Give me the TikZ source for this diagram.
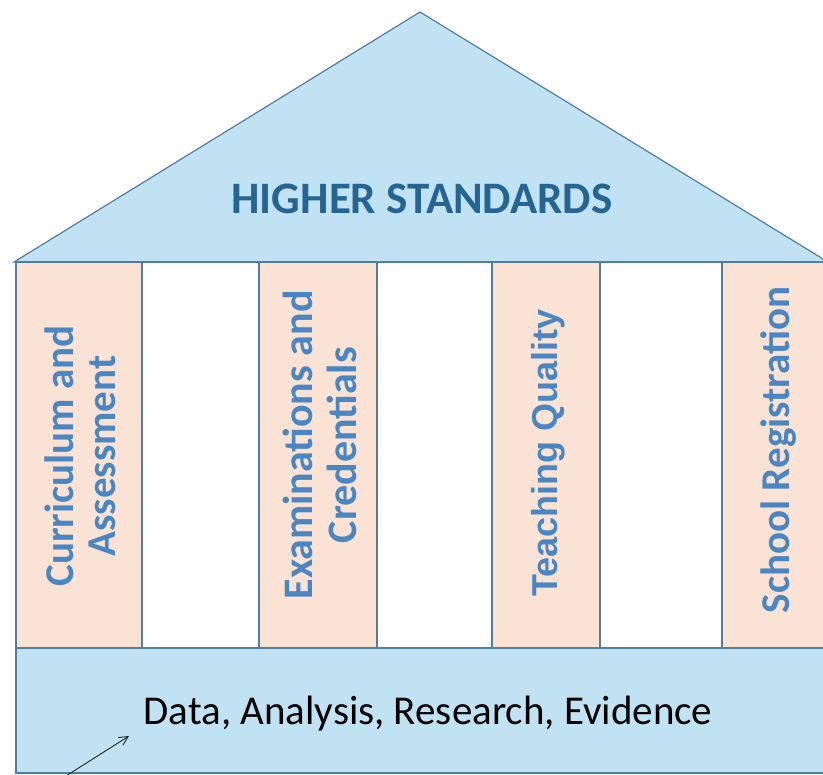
\documentclass[tikz,border=0pt]{standalone}
\usepackage{fontspec}
\setmainfont{Carlito}
\newfontfamily\arialfont{Liberation Sans}
\usetikzlibrary{arrows.meta}
\definecolor{roofblue}{RGB}{192,226,242}
\definecolor{peach}{RGB}{250,227,212}
\definecolor{edgeblue}{RGB}{84,125,158}
\definecolor{titleblue}{RGB}{38,100,146}
\definecolor{pillartext}{RGB}{74,134,194}
\tikzset{
  part/.style={draw=edgeblue, line width=1.2pt},
  pillarbox/.style={part, fill=peach},
  gapbox/.style={part, fill=white},
  pillarlabel/.style={rotate=90, text=pillartext, font=\fontsize{41}{42}\selectfont\bfseries, align=center, inner sep=0pt},
  arrowline/.style={draw=black!85, line width=0.9pt, -{Straight Barb[length=9pt,width=9pt]}}
}
\begin{document}
\begin{tikzpicture}[x=1pt,y=-1pt]
\useasboundingbox (0,0) rectangle (823,775);
\clip (0,0) rectangle (823,775);
% roof
\draw[part, fill=roofblue] (14,262) -- (420,12) -- (828,262) -- cycle;
% pillars and gaps
\draw[pillarbox] (16,262) rectangle (142,648);
\draw[gapbox] (142,262) rectangle (259,648);
\draw[pillarbox] (259,262) rectangle (377,648);
\draw[gapbox] (377,262) rectangle (492,648);
\draw[pillarbox] (492,262) rectangle (600,648);
\draw[gapbox] (600,262) rectangle (722,648);
\draw[pillarbox] (722,262) rectangle (830,648);
% base
\draw[part, fill=roofblue] (16,648) rectangle (830,773);
% texts
\node[text=titleblue, font=\fontsize{45}{48}\selectfont\bfseries, inner sep=0pt] (title) at (422,199) {HIGHER STANDARDS};
\node[pillarlabel] (p1) at (80,456) {Curriculum and\\Assessment};
\node[pillarlabel, font=\fontsize{42}{44}\selectfont\bfseries] (p2) at (320,445) {Examinations and\\Credentials};
\node[pillarlabel, font=\fontsize{36}{38}\selectfont\bfseries\arialfont] (p3) at (548,453) {Teaching Quality};
\node[pillarlabel] (p4) at (779,450) {School Registration};
\node[font=\fontsize{41}{44}\selectfont, inner sep=0pt] (base) at (428,714) {Data, Analysis, Research, Evidence};
% hand-drawn arrow
\coordinate (atail) at (66,776);
\coordinate (ahead) at (129,736);
\draw[arrowline] (atail) -- (ahead);
\end{tikzpicture}
\end{document}
